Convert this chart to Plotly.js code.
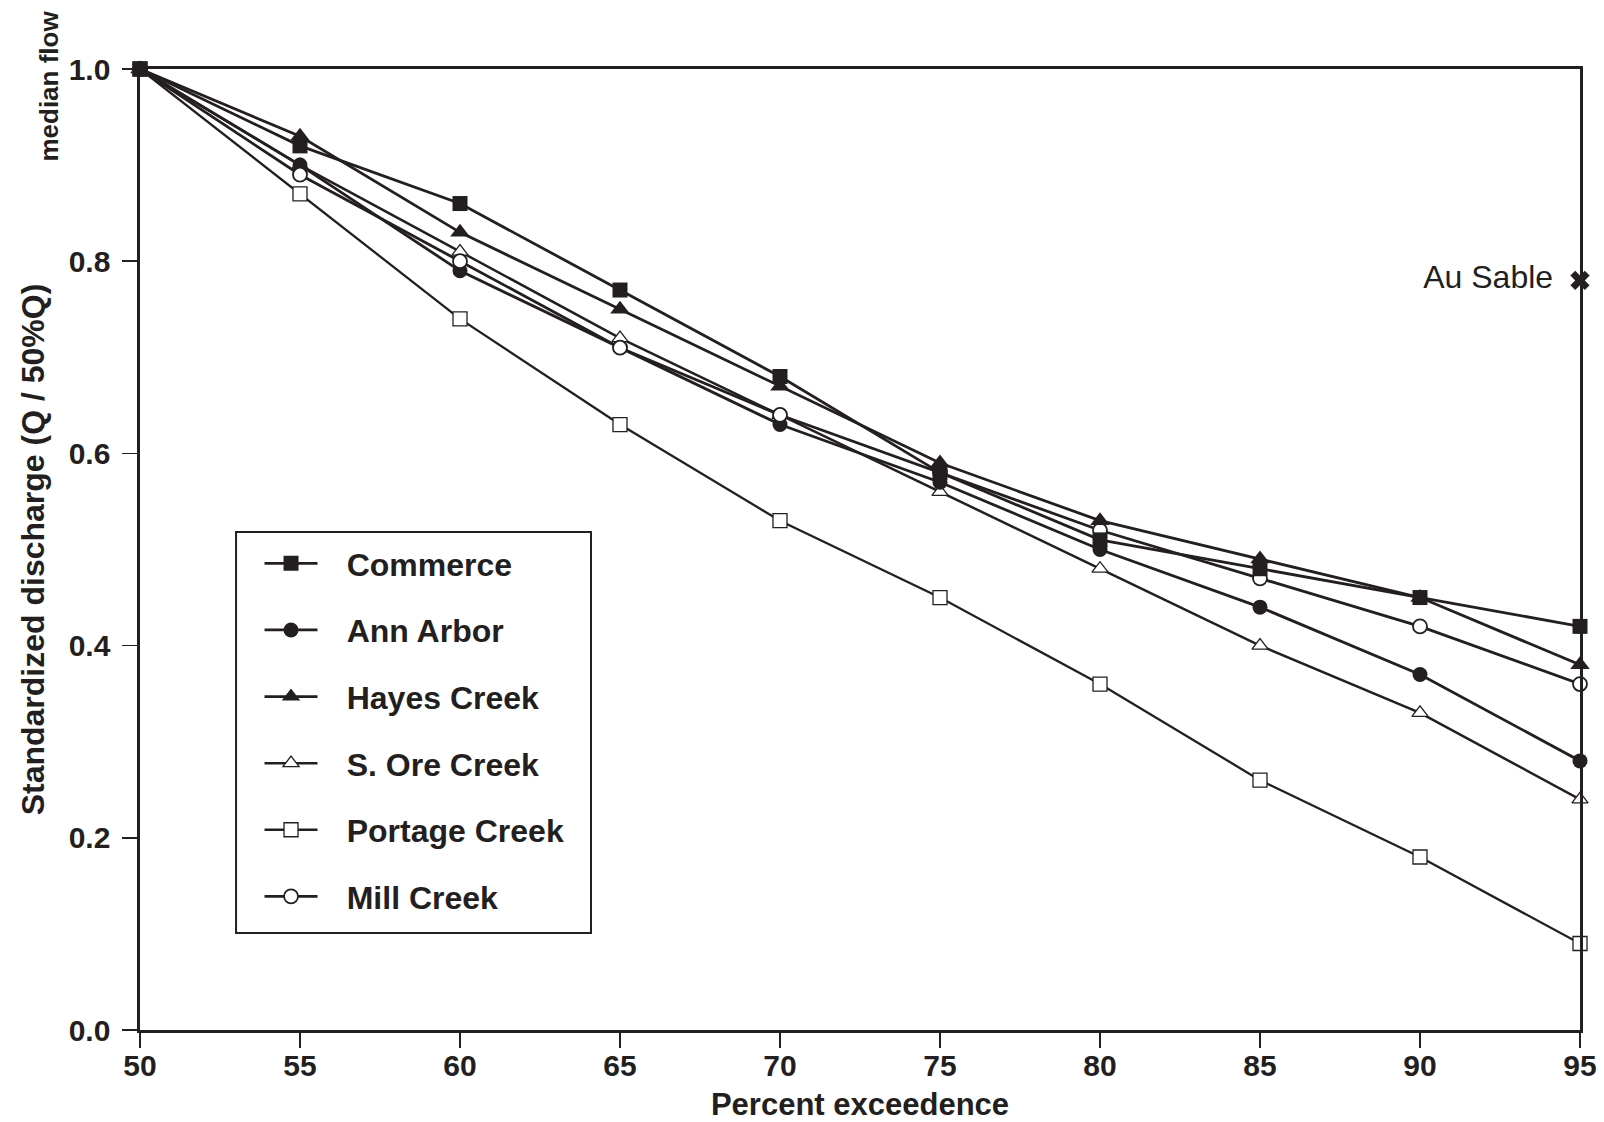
<!DOCTYPE html>
<html>
<head>
<meta charset="utf-8">
<script src="https://cdn.plot.ly/plotly-3.0.1.min.js"></script>
<style>html,body{margin:0;padding:0;background:#fff;}#chart{width:1604px;height:1122px;}</style>
</head>
<body>
<div id="chart"></div>
<script>
const exceedence = [50, 55, 60, 65, 70, 75, 80, 85, 90, 95];
const commerce   = [1.00, 0.92, 0.86, 0.77, 0.68, 0.58, 0.51, 0.48, 0.45, 0.42];
const annArbor   = [1.00, 0.90, 0.79, 0.71, 0.63, 0.57, 0.50, 0.44, 0.37, 0.28];
const hayesCreek = [1.00, 0.93, 0.83, 0.75, 0.67, 0.59, 0.53, 0.49, 0.45, 0.38];
const sOreCreek  = [1.00, 0.90, 0.81, 0.72, 0.64, 0.56, 0.48, 0.40, 0.33, 0.24];
const portageCreek = [1.00, 0.87, 0.74, 0.63, 0.53, 0.45, 0.36, 0.26, 0.18, 0.09];
const millCreek  = [1.00, 0.89, 0.80, 0.71, 0.64, 0.58, 0.52, 0.47, 0.42, 0.36];
const auSableX = [95];
const auSableY = [0.78];
const auSableLabel = ["Au Sable"];
const seriesNames = ["Commerce", "Ann Arbor", "Hayes Creek", "S. Ore Creek", "Portage Creek", "Mill Creek"];
const yTicks = [0, 0.2, 0.4, 0.6, 0.8, 1.0];

const INK = "#231f20";
const FONT = "'Liberation Sans', Arial, Helvetica, sans-serif";
const PAD = "\u00a0\u00a0\u2009";

function series(name, rank, y, symbol, size, filled, lw, mlw) {
  return {
    type: "scatter", mode: "lines+markers", name: PAD + name, legendgroup: name, legendrank: rank,
    x: exceedence, y: y, cliponaxis: false,
    line: {color: INK, width: lw},
    marker: {symbol: symbol, size: size, color: filled ? INK : "#ffffff",
             line: {color: INK, width: mlw}}
  };
}

const traces = [
  series(seriesNames[4], 5, portageCreek, "square", 14, false, 2.3, 1.3),
  series(seriesNames[3], 4, sOreCreek, "triangle-up", 14, false, 2.5, 1.3),
  series(seriesNames[1], 2, annArbor, "circle", 15, true, 2.8, 0),
  series(seriesNames[5], 6, millCreek, "circle", 14, false, 2.8, 1.8),
  series(seriesNames[2], 3, hayesCreek, "triangle-up", 17, true, 2.8, 0),
  series(seriesNames[0], 1, commerce, "square", 15, true, 2.8, 0),
  {
    type: "scatter", mode: "markers+text", name: "Au Sable", showlegend: false,
    x: auSableX, y: auSableY, cliponaxis: false,
    text: auSableLabel.map(s => s + "\u00a0\u2009"), textposition: "middle left",
    textfont: {family: FONT, size: 32, color: INK},
    marker: {symbol: "x", size: 17, color: INK, line: {width: 0}}
  }
];

const layout = {
  width: 1604, height: 1122,
  margin: {l: 140, r: 24, t: 69, b: 92},
  paper_bgcolor: "#ffffff", plot_bgcolor: "#ffffff",
  font: {family: FONT, color: INK},
  showlegend: true,
  legend: {
    x: 0.083, y: 0.514, xanchor: "left", yanchor: "top",
    bgcolor: "rgba(0,0,0,0)", borderwidth: 0,
    font: {family: FONT, size: 32, color: INK, weight: "bold"},
    itemwidth: 53, tracegroupgap: 22, traceorder: "grouped"
  },
  xaxis: {
    range: [50, 95], tickvals: exceedence, ticks: "outside", ticklen: 15, tickwidth: 1.5,
    tickcolor: INK, showline: true, linewidth: 2.6, linecolor: INK, mirror: true,
    showgrid: false, zeroline: false, ticklabelstandoff: -8,
    tickfont: {family: FONT, size: 30, color: INK, weight: "bold"},
    title: {text: "Percent exceedence", standoff: 16,
            font: {family: FONT, size: 31, color: INK, weight: "bold"}}
  },
  yaxis: {
    range: [0, 1], tickvals: yTicks, tickformat: ".1f", ticks: "outside", ticklen: 15, tickwidth: 1.5,
    tickcolor: INK, showline: true, linewidth: 2.6, linecolor: INK, mirror: true,
    showgrid: false, zeroline: false, ticklabelstandoff: 6,
    tickfont: {family: FONT, size: 30, color: INK, weight: "bold"},
    title: {text: "Standardized discharge (Q / 50%Q)", standoff: 15,
            font: {family: FONT, size: 32, color: INK, weight: "bold"}}
  },
  shapes: [{
    type: "rect", xref: "paper", yref: "paper",
    x0: 0.0667, x1: 0.3132, y0: 0.1009, y1: 0.5182,
    line: {color: INK, width: 2}, fillcolor: "rgba(0,0,0,0)", layer: "below"
  }],
  annotations: [{
    text: "median flow", xref: "paper", yref: "paper", x: -0.063, y: 0.982,
    textangle: -90, showarrow: false, xanchor: "center", yanchor: "middle",
    font: {family: FONT, size: 26, color: INK, weight: "bold"}
  }]
};

Plotly.newPlot("chart", traces, layout, {displayModeBar: false, staticPlot: true});
</script>
</body>
</html>
